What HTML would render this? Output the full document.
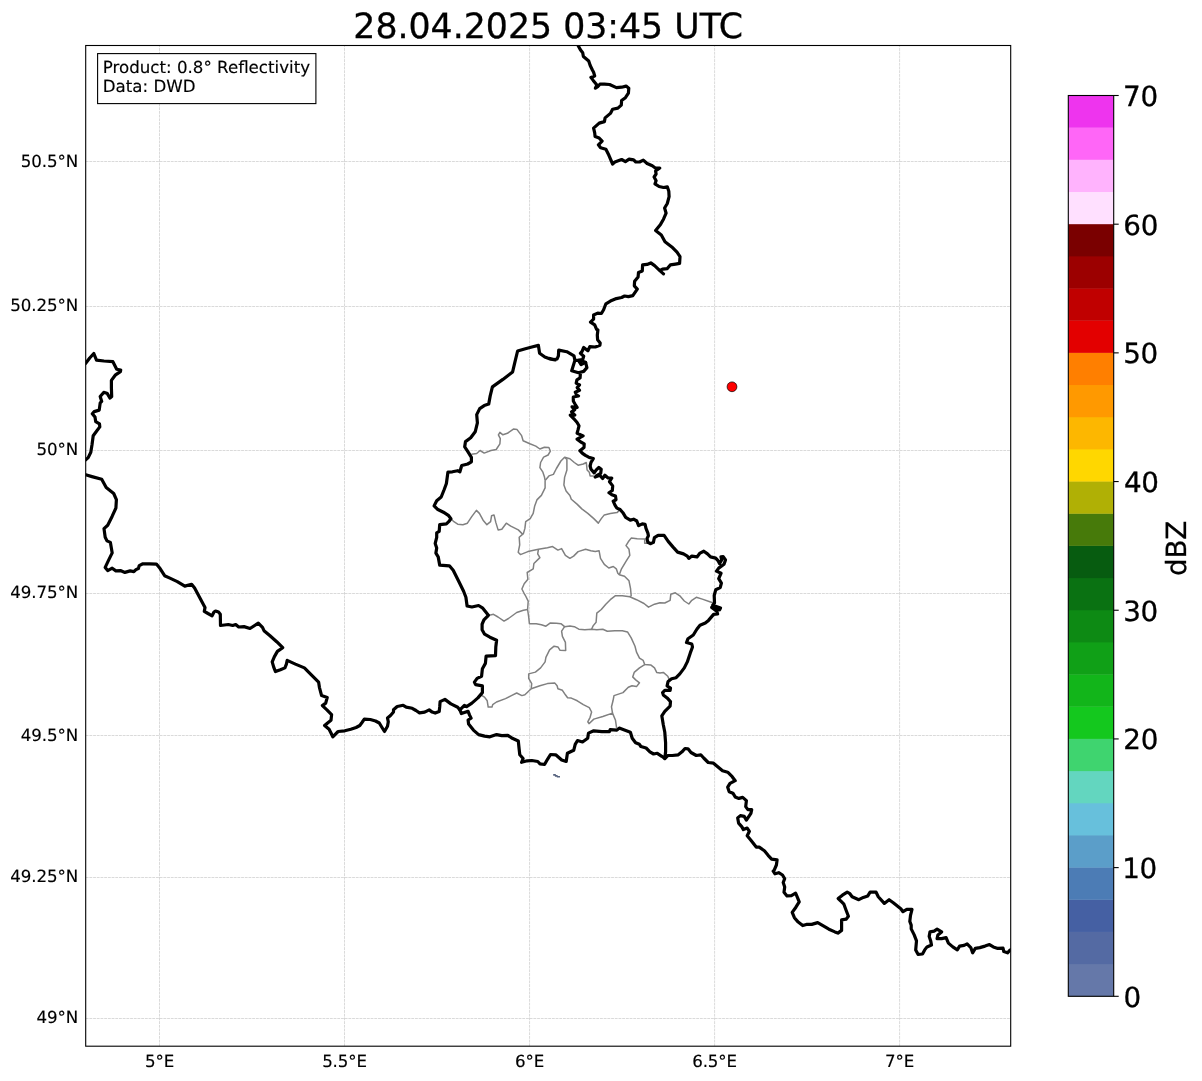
<!DOCTYPE html>
<html><head><meta charset="utf-8"><title>Radar</title>
<style>
html,body{margin:0;padding:0;background:#fff;}
svg{display:block}
text{filter:grayscale(1);text-rendering:geometricPrecision;stroke:#000;stroke-width:.3px;paint-order:stroke}
text{font-family:"DejaVu Sans","Liberation Sans",sans-serif;fill:#000}
.tk{font-size:16.67px;stroke-width:.15px;letter-spacing:-.12px}
.bx{letter-spacing:0}
.cb{font-size:27.78px;letter-spacing:-.3px}
.g{stroke:#b0b0b0;stroke-opacity:.68;stroke-width:.7;stroke-dasharray:2.85 .85;fill:none}
.bd{stroke:#000;stroke-width:3.2;fill:none;stroke-linejoin:round;stroke-linecap:round}
.ad{stroke:#808080;stroke-width:1.5;fill:none;stroke-linejoin:round}
</style></head><body>
<svg width="1202" height="1081" viewBox="0 0 1202 1081">
<rect width="1202" height="1081" fill="#fff"/>
<defs><clipPath id="ax"><rect x="85.7" y="45.5" width="925.0" height="1000.7"/></clipPath></defs>

<g clip-path="url(#ax)">
<path class="g" d="M159.5 1046.2V45.5"/>
<path class="g" d="M344.5 1046.2V45.5"/>
<path class="g" d="M529.55 1046.2V45.5"/>
<path class="g" d="M714.6 1046.2V45.5"/>
<path class="g" d="M899.6 1046.2V45.5"/>
<path class="g" d="M85.7 161.5H1010.7"/>
<path class="g" d="M85.7 306.5H1010.7"/>
<path class="g" d="M85.7 450.5H1010.7"/>
<path class="g" d="M85.7 593.5H1010.7"/>
<path class="g" d="M85.7 735.5H1010.7"/>
<path class="g" d="M85.7 877.5H1010.7"/>
<path class="g" d="M85.7 1018.5H1010.7"/>
<path class="ad" d="M471.4 454.3 476.7 453.5 480.1 450.5 484.2 453.1 490.9 450.5 496.2 449.5 499.9 443.8 500.3 438.6 498.4 434.8 499.9 432.3 502.9 434.8 507.4 433.3 513.4 429.1 517.1 429.6 521.6 435.6 523.1 440.8 529.9 443.8 535.8 446.1 539.9 449.0 544.4 447.2 548.9 447.5 550.4 451.2 548.1 455.0 543.6 457.2 540.6 462.5 539.9 467.7 542.9 472.2 544.4 476.7 545.1 480.4"/>
<path class="ad" d="M545.1 480.4 548.9 475.9 553.4 474.4 556.4 468.5 560.9 461.0 564.6 457.2 569.9 458.7 574.3 462.5 578.1 465.2 583.3 464.0 586.3 462.5 587.1 470.0 589.3 472.2 590.1 475.9 593.8 475.9"/>
<path class="ad" d="M564.6 457.2 566.9 459.5 566.9 470.0 564.6 477.4 563.9 484.9 566.1 490.9 569.9 495.4 571.3 499.2 577.3 504.4 581.8 508.9 587.8 513.4 593.8 518.6 598.3 523.1 601.3 518.6 604.3 514.9 610.3 513.4 617.0 512.6 619.3 510.4"/>
<path class="ad" d="M545.1 480.4 545.1 487.9 541.4 495.4 536.9 499.9 534.7 505.9 533.2 513.4 530.2 518.6 525.7 521.6 524.9 528.4 523.4 533.6 519.2 537.3 519.7 544.8 518.2 552.3 520.4 554.6 527.9 551.6 538.4 549.3 547.4 547.8 552.6 546.6 557.9 550.1 561.6 548.6 565.4 555.3 569.9 558.3 573.6 556.1 578.1 551.6 585.6 549.3 590.8 550.8 595.3 551.6 599.1 550.8 600.5 558.3 604.3 564.3 608.8 568.0 613.3 566.5 616.3 568.8 617.8 573.3 619.3 574.8 624.5 576.3 629.0 580.8 630.5 588.3 631.2 595.7 629.8 596.7"/>
<path class="ad" d="M619.3 574.8 621.5 568.8 626.0 561.3 629.8 555.3 629.0 549.3 626.0 545.6 628.3 541.8 631.2 538.1 637.2 538.8 644.7 539.1 644.7 543.3 648.5 543.3"/>
<path class="ad" d="M450.9 518.7 453.9 521.7 457.7 524.2 462.9 524.7 467.4 523.2 471.9 516.4 476.4 510.4 479.4 513.4 483.1 520.2 486.9 524.7 490.6 521.7 491.6 515.7 494.0 514.9 495.8 522.4 498.1 529.9 501.8 529.2 506.3 523.2 510.8 526.2 518.3 529.9 522.8 534.4"/>
<path class="ad" d="M538.4 549.3 537.7 553.8 539.9 557.6 533.9 563.5 533.2 568.8 527.2 572.5 527.9 579.3 524.2 583.8 521.9 589.0 524.9 595.0 524.9 594.5 528.2 601.2 527.6 609.5 528.7 617.0 529.4 623.7 536.2 623.7 541.4 624.7 545.9 626.2 550.4 622.9 556.4 623.2 560.9 623.7 564.6 626.7 569.9 625.9 574.3 626.7 578.8 629.2 584.8 629.7 591.6 629.2 596.8 629.7 602.8 629.2 607.3 631.2 614.8 630.7 622.3 630.7 627.5 631.9 631.2 637.9 635.0 646.2 636.5 652.1 639.5 658.1 643.2 660.4 644.7 664.6 650.7 664.9 654.5 667.9 656.7 672.4 660.0 673.1 663.3 672.4 667.8 676.2 669.3 679.9"/>
<path class="ad" d="M488.2 615.5 493.5 614.3 498.0 617.0 504.0 621.1 508.5 618.5 516.7 612.5 523.4 610.2 527.6 609.5"/>
<path class="ad" d="M591.6 629.2 593.1 625.9 596.1 622.2 596.8 613.2 601.3 609.5 605.8 604.2 610.3 599.7 615.5 595.7 622.3 595.7 629.8 596.7 636.5 599.7 644.0 603.5 648.5 607.2 654.5 604.2 660.0 602.7 664.8 603.0 670.1 600.3 670.8 594.3 675.3 592.8 679.8 595.8 684.3 601.0 688.8 604.0 691.8 600.3 696.3 597.3 702.3 599.1 709.8 601.8 714.2 603.3"/>
<path class="ad" d="M564.6 626.7 561.6 631.2 562.4 636.4 565.4 642.4 565.7 650.6 560.1 650.3 557.9 646.9 554.1 646.2 549.6 649.9 545.9 657.4 545.1 661.9 540.6 667.9 535.4 672.1 528.7 673.9 528.7 678.4 531.7 683.6 531.2 688.8 524.9 694.8 521.9 695.6 516.7 693.0 511.4 695.6 505.5 698.6 496.5 702.0 492.7 704.6 492.0 707.1 488.2 707.1 487.2 700.8 484.5 697.1 480.7 694.8"/>
<path class="ad" d="M531.2 688.8 539.9 685.8 547.4 683.6 554.9 683.1 557.1 685.8 557.9 688.8 562.4 690.3 565.4 694.8 567.6 697.8 571.3 698.1 577.3 700.8 583.3 704.6 589.3 707.6 591.6 712.0 590.1 717.3 587.8 721.8 589.0 723.7 593.8 719.1 602.8 716.5 612.5 713.1 615.5 720.3 616.6 727.8"/>
<path class="ad" d="M612.5 713.1 611.5 706.8 613.0 700.8 614.0 695.6 623.0 692.6 628.3 687.3 632.0 685.8 636.5 686.6 639.5 682.8 635.7 679.9 632.7 676.9 634.2 672.4 639.5 667.9 644.7 664.6"/>
<path class="bd" d="M578.2 45.7 580.4 49.7 582.7 52.7 583.4 56.5 588.7 61.0 590.2 65.5 592.4 70.0 593.6 72.2 594.7 75.9 590.9 77.4 593.2 80.4 596.9 84.9 595.4 88.2 597.7 86.7 599.9 84.2 604.4 84.2 609.6 84.5 616.4 87.6 621.6 87.2 626.1 86.1 628.8 88.2 628.4 93.2 625.4 97.7 621.6 100.6 621.3 105.1 617.9 108.1 612.6 109.2 610.4 113.4 605.1 117.9 604.4 121.6 599.2 123.1 593.6 128.1 594.7 132.8 595.1 136.6 599.2 138.1 602.1 141.1 598.4 144.8 600.6 147.8 605.9 149.3 608.9 155.3 612.6 164.0 614.9 162.0 621.6 159.5 625.4 161.6 629.1 159.1 633.6 159.8 635.8 162.0 639.6 162.0 643.3 160.1 647.1 163.5 652.3 165.8 655.3 168.0 659.8 168.0 655.6 171.0 656.1 174.0 654.1 177.0 656.1 180.8 655.0 183.8 659.1 186.5 663.5 187.5 667.3 186.8 668.8 191.2 669.1 196.7 667.3 203.5 664.6 208.0 666.1 213.2 663.5 219.2 660.5 224.4 655.6 230.4 661.3 234.9 665.0 241.7 671.8 246.9 677.0 252.1 680.0 256.6 679.6 263.4 675.5 264.1 670.3 264.9 667.3 268.6 662.5 269.1 659.8 270.6 663.5 273.9 659.8 270.6 654.6 265.6 650.8 262.9 647.1 264.4 642.6 264.9 642.3 270.9 638.5 272.4 638.1 276.9 634.6 281.3 634.3 285.8 637.3 289.1 632.8 295.6 628.4 296.6 624.6 296.0 621.6 297.5 616.4 298.6 610.4 301.1 605.9 303.8 603.6 309.8 601.4 313.5 597.7 313.1 593.6 315.0 593.6 319.1 590.5 322.1 594.7 324.8 596.6 329.3 597.9 330.0 597.3 335.2 597.6 339.7 600.2 343.0 599.9 345.2 595.3 347.0 589.8 346.7 587.9 350.7 583.7 347.4 582.1 351.4 580.4 353.3 583.7 356.2 582.7 359.5 578.5 360.4 581.1 364.6 585.6 362.4"/>
<path class="bd" d="M459.9 709.9 464.4 705.4 466.6 706.6 471.9 703.1 477.9 697.9 482.4 692.6 482.4 685.9 475.6 684.7 474.4 682.1 477.1 678.4 481.6 676.2 482.4 668.7 485.4 663.4 486.1 656.2 495.5 655.6 495.8 647.0 496.6 640.2 489.9 637.2 484.6 634.2 482.1 629.7 482.1 624.5 483.9 620.0 482.1 624.2 483.9 619.8 488.4 615.3 482.4 607.8 478.6 605.5 471.9 607.0 467.1 606.0 465.9 597.3 463.6 591.3 459.2 582.3 453.2 570.3 449.4 565.8 439.7 565.1 438.2 556.9 435.9 553.1 436.7 547.9 435.2 543.4 436.7 537.4 436.7 532.9 439.2 531.4 439.7 524.7 446.4 523.9 448.7 521.7 450.9 518.7 448.7 515.7 443.4 512.2 437.4 509.2 434.1 505.9 436.7 500.7 441.2 497.0 444.2 489.5 446.4 483.5 447.2 477.5 447.9 472.2 452.4 471.8 457.7 470.7 459.9 471.8 461.7 465.5 467.7 464.0 471.4 461.8 471.4 457.3 467.7 451.3 464.7 446.8 465.5 441.6 470.7 437.8 475.2 431.8 477.4 422.8 476.7 414.6 479.7 408.6 484.2 405.6 488.7 404.1 490.2 395.9 492.4 386.9 502.9 379.4 512.6 371.9 514.9 362.2 517.6 351.0 525.4 348.7 532.8 346.8 538.4 345.4 539.6 353.2 544.8 357.0 550.8 359.2 555.3 360.0 550.0 358.5 553.9 359.5 557.1 359.0 558.4 355.9 558.7 350.1 566.8 351.7 574.0 355.9 574.9 360.4 571.7 370.8 578.5 372.7 583.7 371.4 586.9 367.6 585.6 362.4 581.1 360.4 577.2 360.4 574.9 360.4 571.7 370.8 578.5 372.7 580.4 373.1 580.1 377.9 576.9 379.9 576.2 383.1 579.5 385.0 577.2 387.6 579.5 390.2 575.3 392.2 576.5 394.8 578.5 396.0 573.3 397.0 573.3 400.0 573.4 401.3 575.3 404.5 577.1 407.3 572.0 406.8 574.8 409.6 571.6 411.9 574.8 415.1 570.2 415.1 573.9 418.8 577.1 422.5 579.0 425.8 578.0 429.9 577.1 433.2 583.1 435.9 577.1 439.2 580.8 442.0 584.2 443.8 584.0 447.5 579.9 450.7 582.2 453.1 585.4 455.4 588.7 457.2 593.3 458.6 591.0 462.3 590.1 466.0 591.0 469.2 594.2 472.9 596.1 470.2 598.9 467.4 601.2 469.2 600.7 473.4 596.6 475.7 595.2 477.1 599.8 475.3 602.6 478.5 604.9 475.3 608.1 478.0 611.8 478.0 609.5 481.7 612.7 485.9 612.3 490.5 609.0 492.8 611.8 494.7 615.5 496.1 616.0 499.8 613.2 501.2 615.1 505.3 616.9 508.1 620.1 509.5 622.9 512.7 625.7 517.3 630.3 520.1 633.6 519.2 636.8 521.0 638.6 525.7 642.3 523.8 645.1 524.3 646.0 528.4 647.9 533.1 648.4 535.8 647.0 538.6 647.9 542.3 650.7 543.7 653.4 542.3 654.4 537.7 658.1 535.4 664.1 535.4 668.2 541.4 673.1 547.1 677.6 552.1 683.5 553.9 687.3 556.1 688.8 558.4 691.8 556.1 697.0 556.9 700.0 553.1 703.8 551.2 707.5 553.9 710.5 556.9 715.7 558.1 718.0 560.6 719.5 563.6 721.7 559.9 721.0 556.9 723.2 556.6 725.5 559.9 724.0 564.3 718.7 568.1 716.5 571.1 721.0 573.3 718.7 578.6 721.4 583.1 720.2 587.6 715.7 589.8 714.2 595.5 714.5 602.9 712.7 605.2 720.5 608.0 719.6 609.8 711.7 607.5 716.8 611.2 717.6 614.0 713.6 614.4 708.5 620.4 705.3 623.0 700.0 625.2 697.0 629.0 693.3 635.0 688.0 638.7 686.5 642.5 691.8 644.0 692.5 647.0 690.3 652.9 687.3 661.9 684.3 667.9 679.8 673.9 676.1 677.7 671.6 678.7 668.1 681.4 667.1 685.9 670.5 688.1 670.1 690.4 664.8 690.4 662.6 692.6 663.3 694.9 667.1 697.9 670.5 701.6 670.1 706.1 664.8 711.3 661.8 715.8 663.3 724.8 664.8 732.3 665.6 742.8 665.6 751.8 664.8 758.5 661.8 756.3 657.3 753.3 653.6 754.0 649.9 751.8 646.1 748.0 640.9 746.5 639.4 744.3 635.6 742.8 632.2 738.3 630.4 732.3 624.4 730.1 619.2 728.1 616.9 730.1 610.2 729.6 609.4 731.6 601.9 731.6 593.7 730.8 588.5 733.1 587.7 738.3 582.5 742.0 577.5 740.5 575.2 744.3 573.7 750.3 567.4 753.3 566.2 761.5 561.7 760.0 555.7 754.8 550.5 754.5 547.5 759.3 544.5 764.5 540.0 763.8 537.8 761.5 531.8 760.5 527.3 760.8 521.6 762.3 523.1 758.5 519.8 754.8 519.1 748.8 518.3 741.0 512.3 738.3 507.8 735.3 501.8 735.6 496.6 734.6 489.9 736.8 484.6 736.1 478.6 734.6 473.4 730.1 468.6 724.1 468.1 720.0 471.1 718.1 469.6 715.1 468.1 711.3 461.4 713.6 459.9 709.9"/>
<path class="bd" d="M664.8 758.5 667.8 755.5 672.3 755.5 678.3 754.8 682.0 751.8 685.0 748.5 688.0 748.8 691.0 752.5 696.3 755.5 700.8 754.8 703.7 758.0 708.2 762.5 713.5 763.2 718.0 767.0 722.5 770.7 727.7 772.2 732.2 776.7 735.2 780.7 730.0 783.4 727.7 787.2 729.2 791.7 732.9 793.2 735.2 796.9 738.9 798.4 742.7 797.4 746.4 800.6 745.7 806.6 747.9 809.6 751.7 809.6 750.9 813.4 747.9 817.9 746.4 820.1 744.2 816.4 740.4 815.6 737.7 817.9 738.6 823.1 741.9 826.9 743.4 829.6 747.2 828.1 749.4 831.3 747.2 835.8 750.9 840.3 756.2 847.1 759.2 847.1 764.4 850.8 768.1 855.3 771.6 859.1 777.1 859.8 776.4 865.0 774.1 870.3 773.2 871.2 775.0 873.8 778.7 872.7 782.5 875.0 784.7 878.7 783.2 882.5 784.7 887.0 784.0 892.2 787.0 895.9 791.4 895.6 795.6 893.2 797.4 897.4 799.2 901.9 795.9 907.2 792.2 912.4 794.4 917.7 798.2 922.1 802.7 925.6 806.4 924.4 811.7 924.4 817.7 922.6 822.9 925.6 828.9 929.2 834.9 931.9 837.9 933.1 841.6 930.4 841.6 925.9 841.6 919.9 846.1 919.2 848.4 916.2 846.1 910.2 843.9 904.2 840.9 901.2 838.2 898.6 842.4 895.2 847.2 892.2 849.9 893.7 852.1 896.7 858.8 899.7 863.3 897.4 867.8 895.9 870.1 892.2 876.1 892.2 878.3 896.7 884.3 903.4 889.1 899.7 893.3 902.7 900.8 908.7 903.0 911.7 906.8 909.4 912.0 909.4 910.5 915.4 909.8 921.4 911.2 925.1 911.2 928.9 914.2 934.9 916.5 940.9 915.7 949.9 918.0 954.3 922.5 954.0 924.7 949.9 927.0 946.9 931.5 945.1 930.7 940.9 929.2 936.4 930.0 931.9 934.1 931.1 937.1 929.2 941.6 931.9 937.9 934.9 937.1 938.6 941.6 938.6 946.1 937.6 948.4 943.1 952.8 946.9 957.3 949.9 959.6 946.1 964.1 945.4 967.1 943.9 970.8 947.6 972.6 952.8 975.3 948.4 979.8 947.6 985.0 946.1 989.5 944.6 993.3 946.9 997.8 948.4 1003.0 948.1 1003.8 951.6 1007.5 952.8 1010.2 949.9 1014.2 948.4"/>
<path class="bd" d="M83.0 365.5 85.7 363.2 89.7 358.0 93.8 353.5 96.5 360.2 104.0 361.0 112.9 361.7 116.7 369.2 120.7 370.0 120.4 371.7 115.2 375.2 111.4 380.4 111.4 387.9 111.7 396.6 110.0 398.1 107.0 393.2 103.7 392.4 100.2 396.6 101.7 401.4 100.2 402.9 99.2 410.1 94.2 411.6 92.3 413.7 95.0 417.1 95.7 421.6 99.5 423.9 99.8 426.9 96.5 431.3 93.2 435.8 92.0 444.8 90.8 452.3 88.2 457.6 85.7 459.8 83.0 461.3"/>
<path class="bd" d="M81.5 473.7 85.7 474.8 92.0 476.6 101.7 479.3 106.2 487.5 113.7 493.5 116.4 499.7 115.9 508.0 112.2 516.2 107.7 525.2 104.0 528.6 105.2 537.2 107.0 540.9 110.4 542.4 112.2 552.9 108.5 560.4 105.2 567.4 107.7 570.6 112.2 568.2 115.9 570.9 120.4 570.6 124.9 572.4 130.2 570.9 133.9 571.6 136.2 569.4 138.4 568.6 139.2 565.6 142.9 563.8 149.6 563.8 156.4 564.1 160.1 568.6 164.6 575.7 169.9 578.1 177.3 581.6 184.8 586.1 191.6 584.3 194.6 588.1 199.8 597.8 205.0 607.6 204.3 611.3 208.0 613.5 212.1 615.8 214.0 612.0 215.5 611.0 218.5 612.0 220.3 614.3 220.5 625.5 228.3 624.5 232.7 625.5 235.7 624.5 238.7 627.0 244.0 626.6 250.0 628.5 258.3 623.2 262.5 627.4 264.0 630.7 270.0 635.7 276.7 641.7 282.7 647.7 277.4 651.4 274.4 656.6 272.2 661.9 273.7 667.1 275.5 671.6 280.4 669.8 284.9 667.9 286.4 664.1 287.2 660.4 295.4 664.1 304.4 667.9 311.1 674.6 318.6 682.1 319.4 687.3 321.6 695.6 327.2 697.5 325.7 703.1 322.4 705.6 326.9 709.8 331.6 714.6 331.0 720.3 327.6 723.0 324.6 725.5 329.1 729.3 331.0 733.0 332.8 736.8 338.1 731.5 344.8 730.8 350.8 729.3 356.1 727.5 359.8 725.5 362.0 722.5 364.3 719.1 370.3 719.5 375.5 721.0 379.3 723.0 382.0 727.5 384.5 731.5 387.5 726.3 388.3 721.8 387.5 718.0 390.5 715.5 393.5 712.0 393.5 709.8 397.2 706.5 403.2 705.3 406.2 707.1 412.2 708.3 416.0 710.5 419.5 712.8 424.7 712.1 429.2 709.9 432.2 712.1 435.2 713.1 439.2 711.6 439.7 706.9 440.1 701.6 444.9 699.4 450.9 703.9 457.7 707.2 459.9 709.9"/>
<path d="M553.2 774.1h2.6v.9h1.8v.9h2.4v1.7h-3.2v-.9h-1.9v-1h-1.7z" fill="#55627e"/>
<circle cx="732" cy="386.8" r="4.9" fill="#f00" stroke="#000" stroke-width=".7"/>
</g>
<rect x="85.7" y="45.5" width="925.0" height="1000.7" fill="none" stroke="#000" stroke-width="1.1"/>
<text class="tk" x="159.5" y="1067" text-anchor="middle">5°E</text>
<text class="tk" x="344.5" y="1067" text-anchor="middle">5.5°E</text>
<text class="tk" x="529.55" y="1067" text-anchor="middle">6°E</text>
<text class="tk" x="714.6" y="1067" text-anchor="middle">6.5°E</text>
<text class="tk" x="899.6" y="1067" text-anchor="middle">7°E</text>
<text class="tk" x="78.0" y="166.80" text-anchor="end">50.5°N</text>
<text class="tk" x="78.0" y="310.80" text-anchor="end">50.25°N</text>
<text class="tk" x="78.0" y="454.60" text-anchor="end">50°N</text>
<text class="tk" x="78.0" y="597.60" text-anchor="end">49.75°N</text>
<text class="tk" x="78.0" y="740.50" text-anchor="end">49.5°N</text>
<text class="tk" x="78.0" y="881.60" text-anchor="end">49.25°N</text>
<text class="tk" x="78.0" y="1022.60" text-anchor="end">49°N</text>
<text x="548.2" y="37.9" text-anchor="middle" font-size="34.72">28.04.2025 03:45 UTC</text>
<rect x="97.6" y="53.6" width="218.3" height="50" fill="#fff" stroke="#000" stroke-width="1.1"/>
<text class="tk bx" x="102.8" y="72.5">Product: 0.8° Reflectivity</text>
<text class="tk bx" x="102.8" y="92.1">Data: DWD</text>
<rect x="1068.3" y="963.73" width="45.4" height="32.57" fill="#6578a9"/>
<rect x="1068.3" y="931.56" width="45.4" height="32.57" fill="#546aa3"/>
<rect x="1068.3" y="899.39" width="45.4" height="32.57" fill="#4560a3"/>
<rect x="1068.3" y="867.21" width="45.4" height="32.57" fill="#4c7cb5"/>
<rect x="1068.3" y="835.04" width="45.4" height="32.57" fill="#5b9ec9"/>
<rect x="1068.3" y="802.87" width="45.4" height="32.57" fill="#67c0dc"/>
<rect x="1068.3" y="770.70" width="45.4" height="32.57" fill="#63d6bf"/>
<rect x="1068.3" y="738.53" width="45.4" height="32.57" fill="#3fd46f"/>
<rect x="1068.3" y="706.36" width="45.4" height="32.57" fill="#14c81e"/>
<rect x="1068.3" y="674.19" width="45.4" height="32.57" fill="#12b51a"/>
<rect x="1068.3" y="642.01" width="45.4" height="32.57" fill="#10a017"/>
<rect x="1068.3" y="609.84" width="45.4" height="32.57" fill="#0d8a14"/>
<rect x="1068.3" y="577.67" width="45.4" height="32.57" fill="#0a7212"/>
<rect x="1068.3" y="545.50" width="45.4" height="32.57" fill="#075c10"/>
<rect x="1068.3" y="513.33" width="45.4" height="32.57" fill="#477a0a"/>
<rect x="1068.3" y="481.16" width="45.4" height="32.57" fill="#b0b005"/>
<rect x="1068.3" y="448.99" width="45.4" height="32.57" fill="#ffd700"/>
<rect x="1068.3" y="416.81" width="45.4" height="32.57" fill="#fdb700"/>
<rect x="1068.3" y="384.64" width="45.4" height="32.57" fill="#ff9900"/>
<rect x="1068.3" y="352.47" width="45.4" height="32.57" fill="#ff7f00"/>
<rect x="1068.3" y="320.30" width="45.4" height="32.57" fill="#e30000"/>
<rect x="1068.3" y="288.13" width="45.4" height="32.57" fill="#c00000"/>
<rect x="1068.3" y="255.96" width="45.4" height="32.57" fill="#9c0000"/>
<rect x="1068.3" y="223.79" width="45.4" height="32.57" fill="#7a0000"/>
<rect x="1068.3" y="191.61" width="45.4" height="32.57" fill="#ffe0ff"/>
<rect x="1068.3" y="159.44" width="45.4" height="32.57" fill="#ffb3fd"/>
<rect x="1068.3" y="127.27" width="45.4" height="32.57" fill="#ff66f7"/>
<rect x="1068.3" y="95.10" width="45.4" height="32.57" fill="#ee34ee"/>
<rect x="1068.3" y="95.5" width="45.4" height="900.8" fill="none" stroke="#000" stroke-width="1.1"/>
<path d="M1113.7 996.30h5" stroke="#000" stroke-width="1.1"/>
<text class="cb" x="1123.47" y="1006.80">0</text>
<path d="M1113.7 867.61h5" stroke="#000" stroke-width="1.1"/>
<text class="cb" x="1122.25" y="878.11">10</text>
<path d="M1113.7 738.93h5" stroke="#000" stroke-width="1.1"/>
<text class="cb" x="1123.27" y="749.43">20</text>
<path d="M1113.7 610.24h5" stroke="#000" stroke-width="1.1"/>
<text class="cb" x="1123.18" y="620.74">30</text>
<path d="M1113.7 481.56h5" stroke="#000" stroke-width="1.1"/>
<text class="cb" x="1123.94" y="492.06">40</text>
<path d="M1113.7 352.87h5" stroke="#000" stroke-width="1.1"/>
<text class="cb" x="1123.16" y="363.37">50</text>
<path d="M1113.7 224.19h5" stroke="#000" stroke-width="1.1"/>
<text class="cb" x="1123.36" y="234.69">60</text>
<path d="M1113.7 95.50h5" stroke="#000" stroke-width="1.1"/>
<text class="cb" x="1123.02" y="106.00">70</text>
<text class="cb" transform="translate(1185.8 548.5) rotate(-90)" text-anchor="middle">dBZ</text>
</svg></body></html>
